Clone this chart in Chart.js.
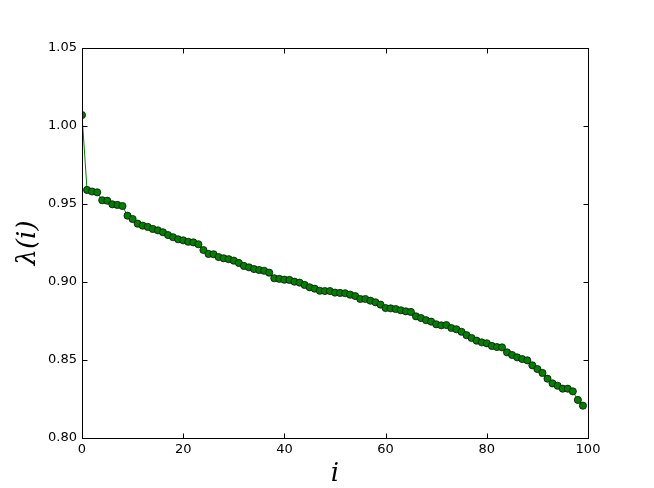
<!DOCTYPE html>
<html>
<head>
<meta charset="utf-8">
<script src="https://cdn.jsdelivr.net/npm/chart.js@4.4.1/dist/chart.umd.min.js"></script>
<style>
  body { margin: 0; background: #fff; }
  #wrap { width: 654px; height: 488px; }
</style>
</head>
<body>
<div id="wrap"><canvas id="myChart" width="654" height="488"></canvas></div>
<script>
// lambda(i) values
const lambdaValues = [
  1.007, 0.959, 0.958, 0.9575, 0.9524, 0.9521, 0.9498, 0.9494, 0.9487, 0.9425,
  0.9404, 0.9374, 0.9361, 0.9353, 0.934, 0.9331, 0.9319, 0.9301, 0.9287, 0.9274,
  0.9267, 0.9258, 0.9254, 0.9242, 0.9205, 0.918, 0.9178, 0.916, 0.9152, 0.9146,
  0.9137, 0.9122, 0.9103, 0.9094, 0.9083, 0.9077, 0.9072, 0.906, 0.9024, 0.902,
  0.9015, 0.9013, 0.9002, 0.8996, 0.8981, 0.8966, 0.8957, 0.8944, 0.8942, 0.8942,
  0.8932, 0.893, 0.8928, 0.8919, 0.891, 0.8891, 0.8891, 0.888, 0.887, 0.8855,
  0.8833, 0.8831, 0.8827, 0.8819, 0.8812, 0.8808, 0.878, 0.8769, 0.8755, 0.8746,
  0.8729, 0.8722, 0.8724, 0.8705, 0.8697, 0.8681, 0.8659, 0.8641, 0.8624, 0.8613,
  0.8607, 0.859, 0.8583, 0.8581, 0.8549, 0.8532, 0.8517, 0.8506, 0.8498, 0.8466,
  0.8442, 0.8417, 0.838, 0.835, 0.8335, 0.8316, 0.8316, 0.8299, 0.8244, 0.8207
];
const xTicks = [0, 20, 40, 60, 80, 100];
const yTicks = [0.80, 0.85, 0.90, 0.95, 1.00, 1.05];

document.addEventListener('DOMContentLoaded', function() {
  const points = lambdaValues.map((v, i) => ({ x: i, y: v }));

  /* frame with inward ticks on all four sides, like matplotlib */
  const framePlugin = {
    id: 'frame',
    afterDatasetsDraw(chart) {
      const { ctx, chartArea: a, scales } = chart;
      const L = Math.round(a.left) + 0.5, R = Math.round(a.right) + 0.5;
      const T = Math.round(a.top) + 0.5, B = Math.round(a.bottom) + 0.5;
      ctx.save();
      ctx.strokeStyle = '#000';
      ctx.lineWidth = 1;
      ctx.beginPath();
      xTicks.forEach(t => {
        const px = Math.round(scales.x.getPixelForValue(t)) + 0.5;
        ctx.moveTo(px, B); ctx.lineTo(px, B - 5);
        ctx.moveTo(px, T); ctx.lineTo(px, T + 5);
      });
      yTicks.forEach(t => {
        const py = Math.round(scales.y.getPixelForValue(t)) + 0.5;
        ctx.moveTo(L, py); ctx.lineTo(L + 5, py);
        ctx.moveTo(R, py); ctx.lineTo(R - 5, py);
      });
      ctx.stroke();
      ctx.strokeRect(L, T, R - L, B - T);
      ctx.restore();
    }
  };

  const tickFont = { family: 'DejaVu Sans', size: 13 };

  new Chart(document.getElementById('myChart'), {
    type: 'scatter',
    data: {
      datasets: [{
        data: points,
        showLine: true,
        borderColor: '#008000',
        borderWidth: 1,
        pointRadius: 3.6,
        pointBackgroundColor: '#008000',
        pointBorderColor: '#000',
        pointBorderWidth: 0.7,
        clip: 0
      }]
    },
    options: {
      responsive: false,
      animation: false,
      layout: { padding: { left: 0, top: 48, right: 66, bottom: 0 } },
      plugins: { legend: { display: false }, tooltip: { enabled: false } },
      scales: {
        x: {
          type: 'linear',
          min: 0,
          max: 100,
          afterFit: (s) => { s.height = 50; },
          afterBuildTicks: (s) => { s.ticks = xTicks.map(v => ({ value: v })); },
          grid: { display: false, drawTicks: false },
          border: { display: false },
          ticks: { color: '#000', font: tickFont, padding: 4, maxRotation: 0 },
          title: {
            display: true,
            text: 'i',
            color: '#000',
            font: { family: 'DejaVu Serif', style: 'italic', size: 26, lineHeight: 1 },
            padding: { top: 0, bottom: 1 }
          }
        },
        y: {
          type: 'linear',
          min: 0.8,
          max: 1.05,
          afterFit: (s) => { s.width = 82; },
          afterBuildTicks: (s) => { s.ticks = yTicks.map(v => ({ value: v })); },
          grid: { display: false, drawTicks: false },
          border: { display: false },
          ticks: {
            color: '#000',
            font: tickFont,
            padding: 5,
            callback: (v) => v.toFixed(2)
          },
          title: {
            display: true,
            text: 'λ(i)',
            color: '#000',
            font: { family: 'DejaVu Serif', style: 'italic', size: 26, lineHeight: 1 },
            padding: { top: 15, bottom: 0 }
          }
        }
      }
    },
    plugins: [framePlugin]
  });
});
</script>
</body>
</html>
